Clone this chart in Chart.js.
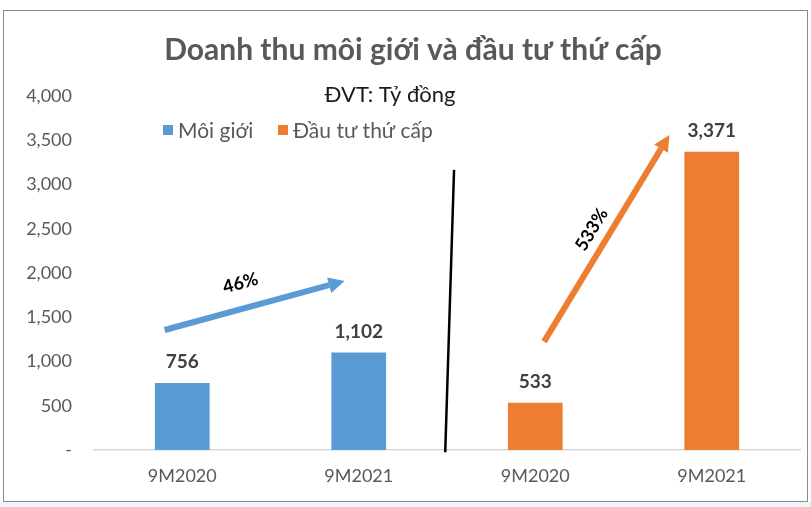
<!DOCTYPE html>
<html>
<head>
<meta charset="utf-8">
<script src="https://cdn.jsdelivr.net/npm/chart.js@4.4.0/dist/chart.umd.min.js"></script>
<style>
    html, body { margin: 0; padding: 0; background: #ffffff; }
    #wrap { width: 811px; height: 507px; }
</style>
</head>
<body>
<div id="wrap"><canvas id="chart" width="811" height="507"></canvas></div>
<script>
// Données (Tỷ đồng)
const categories = ['9M2020', '9M2021', '9M2020', '9M2021'];
const moiGioi = [756, 1102, null, null];
const dauTuThuCap = [null, null, 533, 3371];
const yTicks = [0, 500, 1000, 1500, 2000, 2500, 3000, 3500, 4000];

const titleText = 'Doanh thu môi giới và đầu tư thứ cấp';
const subtitleText = 'ĐVT: Tỷ đồng';
const seriesNames = ['Môi giới', 'Đầu tư thứ cấp'];
const growthLabels = ['46%', '533%'];

const BLUE = '#5B9BD5';
const ORANGE = '#ED7D31';
const GREY = '#595959';
const FONT = 'Lato, "Noto Sans", sans-serif';

// Flèches et séparateur, en unités de données (index de catégorie, valeur)
const annotations = {
    arrows: [
        { from: [-0.10, 1356], to: [0.92, 1910], color: BLUE, label: growthLabels[0], at: [0.33, 1885] },
        { from: [2.05, 1225], to: [2.76, 3560], color: ORANGE, label: growthLabels[1], at: [2.32, 2490] }
    ],
    separator: { from: [1.54, 3165], to: [1.49, -25] }
};

const framePlugin = {
    id: 'frame',
    beforeDraw(chart) {
        const ctx = chart.ctx;
        ctx.save();
        ctx.fillStyle = '#ffffff';
        ctx.fillRect(0, 0, chart.width, chart.height);
        ctx.fillStyle = '#eef5f7';
        ctx.fillRect(0, 502, chart.width, chart.height - 502);
        ctx.strokeStyle = '#8c8c8c';
        ctx.lineWidth = 1;
        ctx.strokeRect(3.5, 10.5, 804, 491);
        ctx.restore();
    }
};

const headerPlugin = {
    id: 'header',
    afterDraw(chart) {
        const ctx = chart.ctx;
        ctx.save();
        ctx.textBaseline = 'middle';
        ctx.textAlign = 'center';
        ctx.fillStyle = GREY;
        ctx.font = 'bold 30px ' + FONT;
        ctx.fillText(titleText, 413, 50);
        ctx.fillStyle = '#1a1a1a';
        ctx.font = '22px ' + FONT;
        ctx.fillText(subtitleText, 390, 95);

        // Légende
        ctx.textAlign = 'left';
        ctx.font = '21px ' + FONT;
        const colors = [BLUE, ORANGE];
        const xs = [163, 278];
        seriesNames.forEach((name, i) => {
            ctx.fillStyle = colors[i];
            ctx.fillRect(xs[i], 125, 10, 10);
            ctx.fillStyle = GREY;
            ctx.fillText(name, xs[i] + 15, 131);
        });
        ctx.restore();
    }
};

const valueLabelPlugin = {
    id: 'valueLabels',
    afterDatasetsDraw(chart) {
        const ctx = chart.ctx;
        ctx.save();
        ctx.font = 'bold 19px ' + FONT;
        ctx.fillStyle = '#404040';
        ctx.textAlign = 'center';
        ctx.textBaseline = 'middle';
        chart.data.datasets.forEach((ds, di) => {
            chart.getDatasetMeta(di).data.forEach((bar, i) => {
                const v = ds.data[i];
                if (v === null) return;
                ctx.fillText(v.toLocaleString('en-US'), bar.x, bar.y - 21);
            });
        });
        ctx.restore();
    }
};

const arrowPlugin = {
    id: 'arrows',
    afterDatasetsDraw(chart) {
        const ctx = chart.ctx;
        const xs = chart.scales.x;
        const ys = chart.scales.y;
        const px = p => [xs.getPixelForValue(p[0]), ys.getPixelForValue(p[1])];
        ctx.save();

        // Séparateur noir
        const s0 = px(annotations.separator.from);
        const s1 = px(annotations.separator.to);
        ctx.strokeStyle = '#000000';
        ctx.lineWidth = 2.5;
        ctx.beginPath();
        ctx.moveTo(s0[0], s0[1]);
        ctx.lineTo(s1[0], s1[1]);
        ctx.stroke();

        annotations.arrows.forEach(a => {
            const p0 = px(a.from);
            const p1 = px(a.to);
            const ang = Math.atan2(p1[1] - p0[1], p1[0] - p0[0]);
            const head = 16;
            const bx = p1[0] - head * Math.cos(ang);
            const by = p1[1] - head * Math.sin(ang);
            ctx.strokeStyle = a.color;
            ctx.fillStyle = a.color;
            ctx.lineWidth = 6;
            ctx.beginPath();
            ctx.moveTo(p0[0], p0[1]);
            ctx.lineTo(bx, by);
            ctx.stroke();
            ctx.beginPath();
            ctx.moveTo(p1[0], p1[1]);
            ctx.lineTo(bx + 8 * Math.sin(ang), by - 8 * Math.cos(ang));
            ctx.lineTo(bx - 8 * Math.sin(ang), by + 8 * Math.cos(ang));
            ctx.closePath();
            ctx.fill();

            const t = px(a.at);
            ctx.save();
            ctx.translate(t[0], t[1]);
            ctx.rotate(ang);
            ctx.font = 'bold 18px ' + FONT;
            ctx.fillStyle = '#000000';
            ctx.textAlign = 'center';
            ctx.textBaseline = 'middle';
            ctx.fillText(a.label, 0, 0);
            ctx.restore();
        });
        ctx.restore();
    }
};

new Chart(document.getElementById('chart').getContext('2d'), {
    type: 'bar',
    data: {
        labels: categories,
        datasets: [
            { label: seriesNames[0], data: moiGioi, backgroundColor: BLUE, grouped: false, barPercentage: 0.62, categoryPercentage: 0.5 },
            { label: seriesNames[1], data: dauTuThuCap, backgroundColor: ORANGE, grouped: false, barPercentage: 0.62, categoryPercentage: 0.5 }
        ]
    },
    options: {
        responsive: false,
        animation: false,
        layout: { padding: { top: 96, right: 11, bottom: 5, left: 0 } },
        plugins: { legend: { display: false }, title: { display: false }, tooltip: { enabled: false } },
        scales: {
            x: {
                grid: { display: false },
                border: { display: true, color: '#d9d9d9', width: 1.5 },
                ticks: { color: GREY, font: { family: FONT, size: 18 }, padding: 7 },
                afterFit: scale => { scale.height = 52; }
            },
            y: {
                min: 0,
                max: 4000,
                afterBuildTicks: scale => { scale.ticks = yTicks.map(v => ({ value: v })); },
                grid: { display: false },
                border: { display: false },
                ticks: {
                    color: GREY,
                    font: { family: FONT, size: 18 },
                    padding: 14,
                    callback: v => v === 0 ? '-' : v.toLocaleString('en-US')
                },
                afterFit: scale => { scale.width = 94; }
            }
        }
    },
    plugins: [framePlugin, valueLabelPlugin, arrowPlugin, headerPlugin]
});
</script>
</body>
</html>
